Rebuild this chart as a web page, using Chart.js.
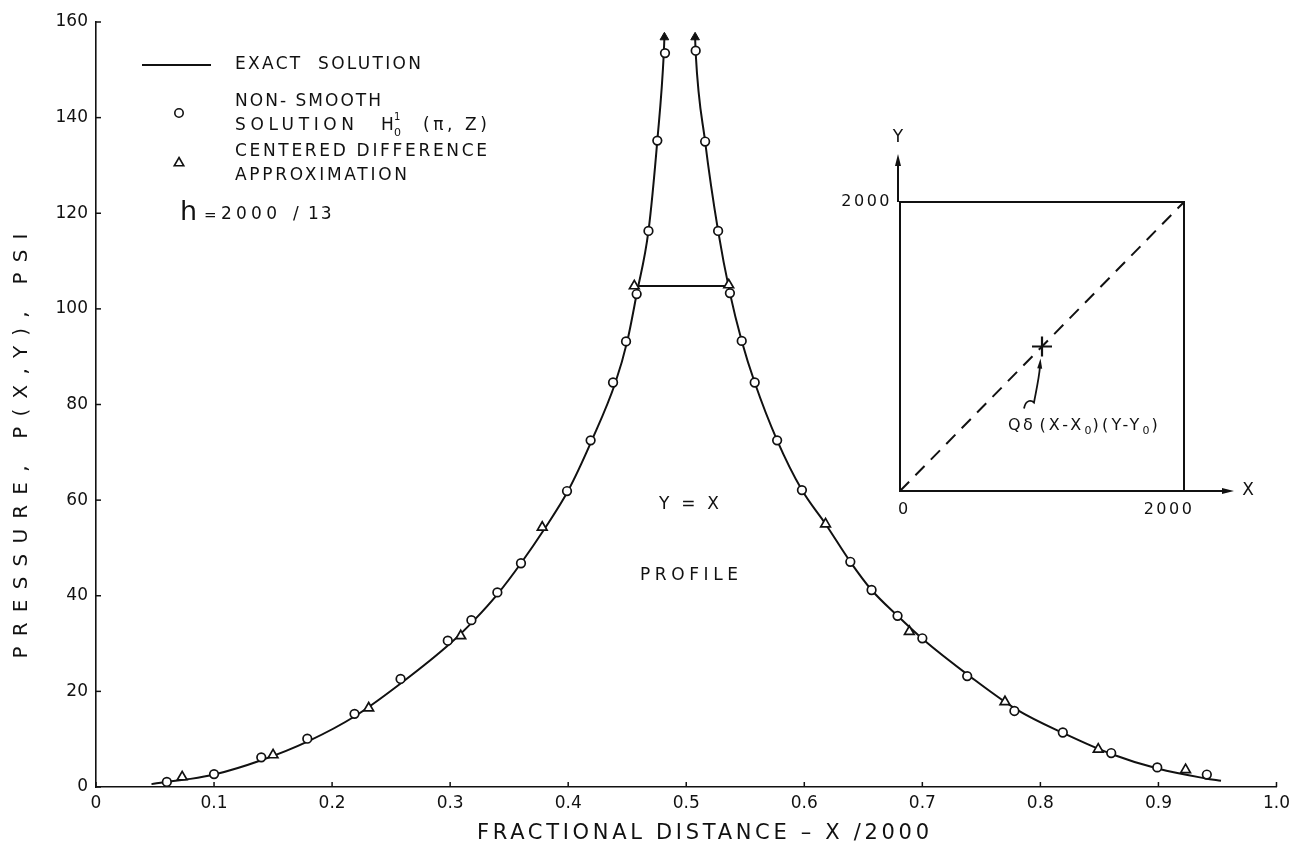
<!DOCTYPE html>
<html><head><meta charset="utf-8">
<script src="https://cdn.jsdelivr.net/npm/chart.js@4.4.1/dist/chart.umd.min.js"></script>
<style>
html,body{margin:0;padding:0;background:#fff;}
#wrap{position:relative;width:1296px;height:845px;overflow:hidden;}
#main{position:absolute;left:0;top:0;}
#inset{position:absolute;left:840px;top:110px;}
</style></head><body>
<div id="wrap"><canvas id="main" width="1296" height="845"></canvas><canvas id="inset" width="456" height="420"></canvas></div>
<script>
// ---------- data ----------
const xTickValues = [0, 0.1, 0.2, 0.3, 0.4, 0.5, 0.6, 0.7, 0.8, 0.9, 1.0];
const xTickLabels = ['0', '0.1', '0.2', '0.3', '0.4', '0.5', '0.6', '0.7', '0.8', '0.9', '1.0'];
const yTickValues = [0, 20, 40, 60, 80, 100, 120, 140, 160];
const yTickLabels = ['0', '20', '40', '60', '80', '100', '120', '140', '160'];

// exact solution, left branch (rising towards singularity)
const exactLeftX = [0.047, 0.06, 0.08, 0.10, 0.14, 0.18, 0.22, 0.26, 0.30, 0.32, 0.34, 0.36, 0.38, 0.40, 0.42, 0.44, 0.45, 0.458, 0.468, 0.4755, 0.481, 0.4815];
const exactLeftY = [0.6, 1.1, 1.7, 2.6, 5.6, 9.6, 14.9, 22.0, 30.0, 34.8, 40.3, 46.8, 54.0, 62.0, 72.5, 84.6, 93.2, 103.1, 116.3, 135.2, 153.5, 156.8];
// exact solution, right branch (falling from singularity)
const exactRightX = [0.5075, 0.508, 0.516, 0.527, 0.537, 0.547, 0.558, 0.577, 0.598, 0.618, 0.639, 0.657, 0.679, 0.70, 0.74, 0.78, 0.82, 0.86, 0.90, 0.94, 0.953];
const exactRightY = [156.8, 153.5, 135.0, 116.3, 103.3, 93.3, 84.6, 72.5, 62.1, 55.0, 47.1, 41.2, 35.8, 31.0, 23.2, 16.2, 11.2, 6.9, 3.8, 1.8, 1.3];
// horizontal connector between the centered-difference values at the source
const plateauX = [0.456, 0.536];
const plateauY = [104.8, 104.8];

// non-smooth solution H0^1(pi, Z) (circles)
const nonSmoothX = [0.060, 0.100, 0.140, 0.179, 0.219, 0.258, 0.298, 0.318, 0.340, 0.360, 0.399, 0.419, 0.438, 0.449, 0.458, 0.468, 0.4755, 0.482,
                    0.508, 0.516, 0.527, 0.537, 0.547, 0.558, 0.577, 0.598, 0.639, 0.657, 0.679, 0.700, 0.738, 0.778, 0.819, 0.860, 0.899, 0.941];
const nonSmoothY = [1.05, 2.7, 6.2, 10.1, 15.3, 22.6, 30.6, 34.9, 40.7, 46.8, 61.9, 72.5, 84.6, 93.2, 103.1, 116.3, 135.2, 153.5,
                    154.0, 135.0, 116.3, 103.3, 93.3, 84.6, 72.5, 62.1, 47.1, 41.2, 35.8, 31.1, 23.2, 15.9, 11.4, 7.1, 4.1, 2.6];

// centered difference approximation (triangles)
const centeredX = [0.073, 0.150, 0.231, 0.309, 0.378, 0.456, 0.536, 0.618, 0.689, 0.770, 0.849, 0.923];
const centeredY = [2.1, 6.7, 16.5, 31.6, 54.3, 104.8, 105.0, 55.0, 32.5, 17.8, 7.9, 3.6];

// inset diagram (domain 0..2000, profile Y = X, point source at centre)
const insetTicks = [0, 2000];
const insetDiagX = [0, 2000];
const insetDiagY = [0, 2000];
const sourceX = [1000];
const sourceY = [1000];

// ---------- helpers ----------
const INK = '#111';
const FONT = '"DejaVu Sans", "Liberation Sans", sans-serif';
const pts = (xs, ys) => xs.map((x, i) => ({x, y: ys[i]}));

function txt(ctx, s, x, y, size, spacing, align, baseline) {
  ctx.save();
  ctx.font = size + 'px ' + FONT;
  ctx.letterSpacing = (spacing || 0) + 'px';
  ctx.textAlign = align || 'left';
  ctx.textBaseline = baseline || 'middle';
  ctx.fillStyle = INK;
  ctx.fillText(s, x, y);
  const w = ctx.measureText(s).width;
  ctx.restore();
  return w;
}
// draw text so that it spans a given width (letter spacing solved from the measured width)
function txtSpan(ctx, s, x, y, size, width, align) {
  ctx.save();
  ctx.font = size + 'px ' + FONT;
  ctx.letterSpacing = '0px';
  const nat = ctx.measureText(s).width;
  ctx.restore();
  const sp = Math.max(0, (width - nat) / Math.max(1, s.length - 1));
  let x0 = x;
  if (align === 'center') x0 = x - width / 2;
  return txt(ctx, s, x0, y, size, sp, 'left');
}
function circleMark(ctx, x, y, r) {
  ctx.save(); ctx.beginPath(); ctx.arc(x, y, r, 0, Math.PI * 2);
  ctx.fillStyle = '#fff'; ctx.fill(); ctx.lineWidth = 1.6; ctx.strokeStyle = INK; ctx.stroke(); ctx.restore();
}
function triMark(ctx, x, y, r) {
  const s = r * Math.sqrt(3) / 2;
  ctx.save(); ctx.beginPath();
  ctx.moveTo(x, y - r); ctx.lineTo(x + s, y + r / 2); ctx.lineTo(x - s, y + r / 2); ctx.closePath();
  ctx.fillStyle = '#fff'; ctx.fill(); ctx.lineWidth = 1.6; ctx.strokeStyle = INK; ctx.stroke(); ctx.restore();
}
function arrowHead(ctx, x, y, ang, len, wid) {
  ctx.save(); ctx.translate(x, y); ctx.rotate(ang);
  ctx.beginPath(); ctx.moveTo(0, 0); ctx.lineTo(-len, wid / 2); ctx.lineTo(-len, -wid / 2); ctx.closePath();
  ctx.fillStyle = INK; ctx.fill(); ctx.restore();
}

// ---------- main chart decorations ----------
const mainDecor = {
  id: 'mainDecor',
  afterDraw(chart) {
    const ctx = chart.ctx, xs = chart.scales.x, ys = chart.scales.y, a = chart.chartArea;
    // inward tick marks
    ctx.save(); ctx.strokeStyle = INK; ctx.lineWidth = 1.5;
    yTickValues.forEach(v => { const p = ys.getPixelForValue(v); ctx.beginPath(); ctx.moveTo(a.left, p); ctx.lineTo(a.left + 5, p); ctx.stroke(); });
    xTickValues.forEach(v => { const p = xs.getPixelForValue(v); ctx.beginPath(); ctx.moveTo(p, a.bottom); ctx.lineTo(p, a.bottom - 5); ctx.stroke(); });
    ctx.restore();

    // legend
    ctx.save(); ctx.strokeStyle = INK; ctx.lineWidth = 2;
    ctx.beginPath(); ctx.moveTo(142, 65); ctx.lineTo(211, 65); ctx.stroke(); ctx.restore();
    txtSpan(ctx, 'EXACT  SOLUTION', 235, 65, 17, 186);
    circleMark(ctx, 179, 113, 4.2);
    txtSpan(ctx, 'NON- SMOOTH', 235, 102, 17, 146);
    txtSpan(ctx, 'SOLUTION', 235, 126, 17, 119);
    txt(ctx, 'H', 381, 126, 17, 0);
    txt(ctx, '1', 394, 117, 10, 0);
    txt(ctx, '0', 394, 133, 11, 0);
    txtSpan(ctx, '(π, Z)', 423, 126, 17, 64);
    triMark(ctx, 179, 163, 5.5);
    txtSpan(ctx, 'CENTERED DIFFERENCE', 235, 152, 17, 252);
    txtSpan(ctx, 'APPROXIMATION', 235, 176, 17, 172);
    txt(ctx, 'h', 180, 213, 27, 0);
    txt(ctx, '=', 204, 216, 15, 0);
    txtSpan(ctx, '2000', 221, 215, 17, 56);
    txt(ctx, '/', 293, 215, 17, 0);
    txt(ctx, '13', 308, 215, 17, 2);

    // profile annotation
    txtSpan(ctx, 'Y = X', 689, 505, 17, 60, 'center');
    txtSpan(ctx, 'PROFILE', 689, 576, 17, 98, 'center');

    // axis titles
    txtSpan(ctx, 'FRACTIONAL DISTANCE – X /2000', 477, 834, 21, 452);
    ctx.save(); ctx.translate(22, 446); ctx.rotate(-Math.PI / 2);
    txtSpan(ctx, 'PRESSURE, P(X,Y), PSI', 0, 0, 20, 425, 'center');
    ctx.restore();
  }
};

const lineDs = (label, xs, ys, arrowIndex) => ({
  label, data: pts(xs, ys), showLine: true, borderColor: INK, borderWidth: 2,
  cubicInterpolationMode: 'monotone', order: 2,
  pointStyle: 'triangle', pointBackgroundColor: INK, pointBorderColor: INK, pointBorderWidth: 1,
  pointRadius: c => (c.dataIndex === (arrowIndex < 0 ? xs.length - 1 : arrowIndex) ? 5 : 0),
  pointHoverRadius: 0
});

new Chart(document.getElementById('main'), {
  type: 'scatter',
  data: {
    datasets: [
      { label: 'NON-SMOOTH SOLUTION', data: pts(nonSmoothX, nonSmoothY), pointStyle: 'circle', pointRadius: 4.3,
        pointBorderWidth: 1.7, pointBackgroundColor: '#fff', pointBorderColor: INK, order: 0 },
      { label: 'CENTERED DIFFERENCE APPROXIMATION', data: pts(centeredX, centeredY), pointStyle: 'triangle', pointRadius: 5.6,
        pointBorderWidth: 1.7, pointBackgroundColor: '#fff', pointBorderColor: INK, order: 0 },
      lineDs('EXACT SOLUTION', exactLeftX, exactLeftY, -1),
      lineDs('EXACT SOLUTION (right)', exactRightX, exactRightY, 0),
      { label: 'plateau', data: pts(plateauX, plateauY), showLine: true, borderColor: INK, borderWidth: 2, pointRadius: 0, order: 3 }
    ]
  },
  options: {
    responsive: false, animation: false, devicePixelRatio: 1,
    layout: { padding: { top: 22, right: 13, left: 0, bottom: 0 } },
    plugins: { legend: { display: false }, tooltip: { enabled: false } },
    scales: {
      x: {
        type: 'linear', min: 0, max: 1,
        afterBuildTicks: s => { s.ticks = xTickValues.map(v => ({ value: v })); },
        afterFit: s => { s.height = 58; },
        ticks: { callback: (v, i) => xTickLabels[i], color: INK, font: { family: FONT, size: 17 }, padding: 6, maxRotation: 0 },
        grid: { display: false, drawTicks: false },
        border: { display: true, color: INK, width: 1.6 }
      },
      y: {
        type: 'linear', min: 0, max: 160,
        afterBuildTicks: s => { s.ticks = yTickValues.map(v => ({ value: v })); },
        afterFit: s => { s.width = 96; },
        ticks: { callback: (v, i) => yTickLabels[i], color: INK, font: { family: FONT, size: 17 }, padding: 8 },
        grid: { display: false, drawTicks: false },
        border: { display: true, color: INK, width: 1.6 }
      }
    }
  },
  plugins: [mainDecor]
});

// ---------- inset ----------
const insetDecor = {
  id: 'insetDecor',
  beforeDatasetsDraw(chart) {
    const ctx = chart.ctx, a = chart.chartArea;
    ctx.save(); ctx.strokeStyle = INK; ctx.lineWidth = 2;
    ctx.strokeRect(a.left, a.top, a.right - a.left, a.bottom - a.top);
    // Y arrow
    ctx.beginPath(); ctx.moveTo(a.left - 2, a.top); ctx.lineTo(a.left - 2, a.top - 40); ctx.stroke();
    arrowHead(ctx, a.left - 2, a.top - 48, -Math.PI / 2, 12, 6);
    // X arrow
    ctx.beginPath(); ctx.moveTo(a.right, a.bottom); ctx.lineTo(a.right + 42, a.bottom); ctx.stroke();
    arrowHead(ctx, a.right + 50, a.bottom, 0, 12, 6);
    ctx.restore();
  },
  afterDraw(chart) {
    const ctx = chart.ctx, a = chart.chartArea, xs = chart.scales.x, ys = chart.scales.y;
    txt(ctx, 'Y', a.left - 2, a.top - 64, 17, 0, 'center');
    txt(ctx, 'X', a.right + 64, a.bottom, 17, 0, 'center');
    txt(ctx, String(insetTicks[1]), a.left - 8, ys.getPixelForValue(insetTicks[1]), 16, 2.5, 'right');
    txt(ctx, String(insetTicks[0]), xs.getPixelForValue(insetTicks[0]) + 3, a.bottom + 19, 16, 0, 'center');
    txt(ctx, String(insetTicks[1]), xs.getPixelForValue(insetTicks[1]) - 15, a.bottom + 19, 16, 2.5, 'center');
    // source label with pointer
    const cx = xs.getPixelForValue(sourceX[0]), cy = ys.getPixelForValue(sourceY[0]);
    ctx.save(); ctx.strokeStyle = INK; ctx.lineWidth = 1.8;
    ctx.beginPath(); ctx.moveTo(cx - 18, cy + 62);
    ctx.bezierCurveTo(cx - 16, cy + 52, cx - 10, cy + 54, cx - 8, cy + 56);
    ctx.bezierCurveTo(cx - 6, cy + 45, cx - 3, cy + 32, cx - 2, cy + 20);
    ctx.stroke(); ctx.restore();
    arrowHead(ctx, cx - 1.5, cy + 12, -Math.PI / 2 + 0.08, 10, 5);
    let x0 = cx - 34, y0 = cy + 79;
    x0 += txt(ctx, 'Qδ', x0, y0, 16, 2.5);
    x0 += txt(ctx, '(X-X', x0 + 4, y0, 16, 3.2) + 4;
    x0 += txt(ctx, '0', x0, y0 + 6, 11, 0);
    x0 += txt(ctx, ')(Y-Y', x0 + 1, y0, 16, 3.2) + 1;
    x0 += txt(ctx, '0', x0, y0 + 6, 11, 0);
    txt(ctx, ')', x0 + 2, y0, 16, 0);
  }
};

new Chart(document.getElementById('inset'), {
  type: 'scatter',
  data: {
    datasets: [
      { label: 'Y = X profile', data: pts(insetDiagX, insetDiagY), showLine: true, borderColor: INK, borderWidth: 2,
        borderDash: [13, 9], pointRadius: 0 },
      { label: 'source', data: pts(sourceX, sourceY), pointStyle: 'cross', pointRadius: 10, pointBorderWidth: 2.2,
        pointBorderColor: INK }
    ]
  },
  options: {
    responsive: false, animation: false, devicePixelRatio: 1,
    layout: { padding: { left: 60, right: 112, top: 92, bottom: 39 } },
    plugins: { legend: { display: false }, tooltip: { enabled: false } },
    scales: {
      x: { type: 'linear', min: 0, max: 2000, display: false },
      y: { type: 'linear', min: 0, max: 2000, display: false }
    }
  },
  plugins: [insetDecor]
});
</script>
</body></html>
